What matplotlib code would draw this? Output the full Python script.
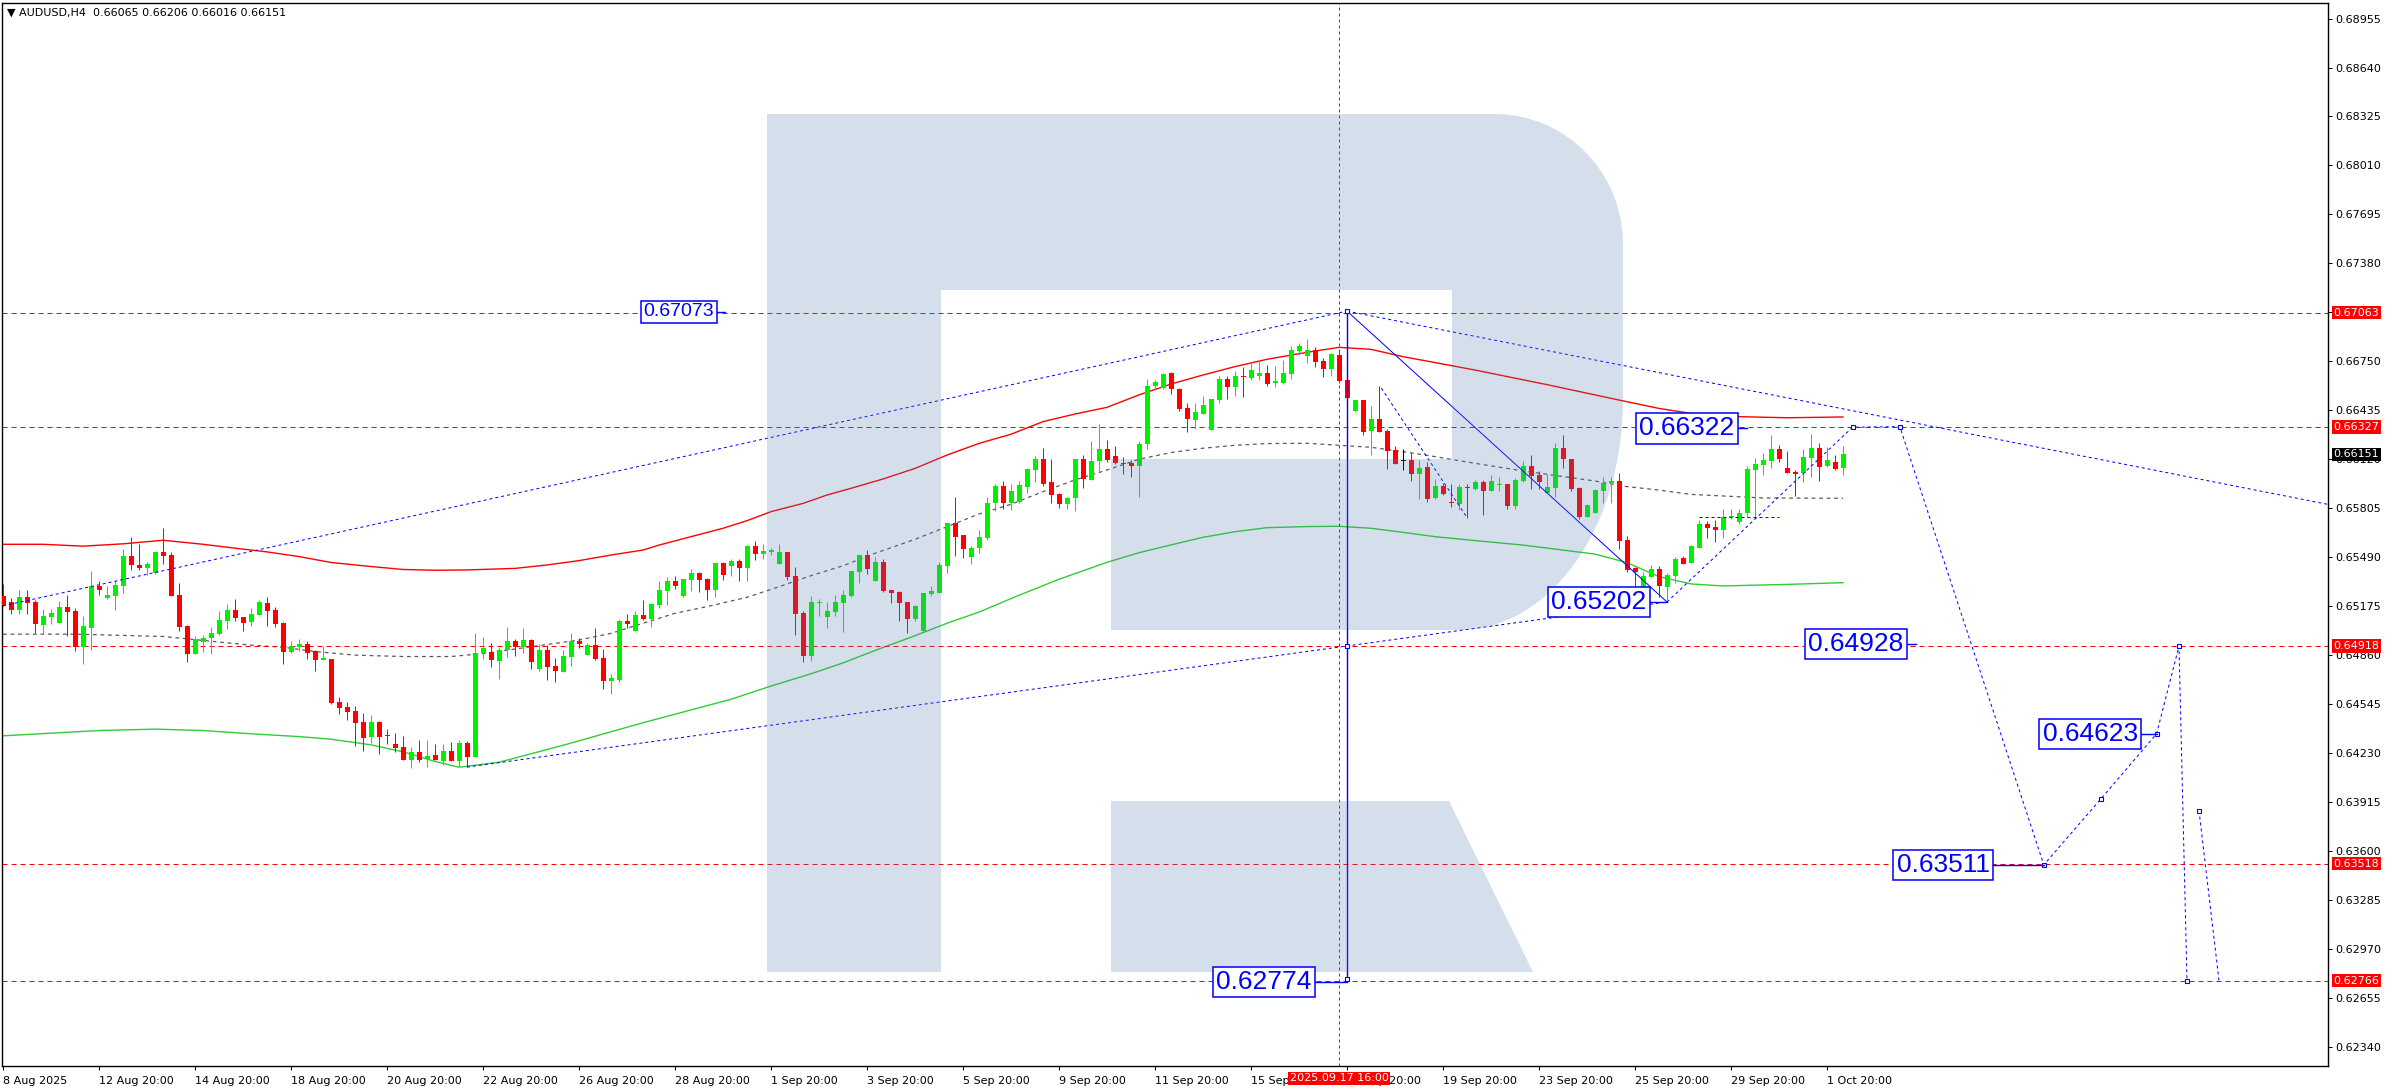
import numpy as np
import matplotlib.pyplot as plt
from matplotlib.patches import Polygon
from matplotlib.transforms import blended_transform_factory

# AUDUSD H4 candles, bar 0 = 8 Aug 2025 20:00
opens = [0.65241, 0.65203, 0.65151, 0.65235, 0.65203, 0.65055, 0.65106, 0.65068, 0.65170, 0.65145,
         0.64913, 0.65035, 0.65306, 0.65228, 0.65241, 0.65306, 0.65498, 0.65441, 0.65421, 0.65389,
         0.65524, 0.65505, 0.65248, 0.65048, 0.64868, 0.64945, 0.64971, 0.64997, 0.65080, 0.65151,
         0.65106, 0.65074, 0.65119, 0.65196, 0.65151, 0.65068, 0.64881, 0.64913, 0.64930, 0.64887,
         0.64830, 0.64836, 0.64559, 0.64527, 0.64502, 0.64431, 0.64334, 0.64431, 0.64343, 0.64289,
         0.64270, 0.64186, 0.64238, 0.64193, 0.64218, 0.64180, 0.64244, 0.64180, 0.64296, 0.64206,
         0.64872, 0.64878, 0.64824, 0.64893, 0.64951, 0.64910, 0.64957, 0.64769, 0.64893, 0.64790,
         0.64754, 0.64850, 0.64949, 0.64863, 0.64923, 0.64842, 0.64696, 0.64700, 0.65080, 0.65017,
         0.65118, 0.65092, 0.65185, 0.65275, 0.65337, 0.65240, 0.65343, 0.65388, 0.65350, 0.65279,
         0.65453, 0.65433, 0.65463, 0.65423, 0.65564, 0.65513, 0.65523, 0.65448, 0.65523, 0.65369,
         0.65129, 0.64857, 0.65197, 0.65105, 0.65140, 0.65197, 0.65243, 0.65395, 0.65506, 0.65339,
         0.65459, 0.65279, 0.65266, 0.65202, 0.65095, 0.65017, 0.65255, 0.65262, 0.65435, 0.65710,
         0.65633, 0.65493, 0.65551, 0.65612, 0.65839, 0.65948, 0.65841, 0.65848, 0.65944, 0.66053,
         0.66122, 0.65974, 0.65899, 0.65835, 0.65873, 0.66122, 0.65989, 0.66109, 0.66186, 0.66141,
         0.66096, 0.66094, 0.66079, 0.66218, 0.66589, 0.66577, 0.66675, 0.66572, 0.66448, 0.66375,
         0.66414, 0.66309, 0.66501, 0.66637, 0.66585, 0.66652, 0.66645, 0.66656, 0.66675, 0.66609,
         0.66611, 0.66669, 0.66817, 0.66787, 0.66823, 0.66752, 0.66703, 0.66791, 0.66630, 0.66431,
         0.66501, 0.66300, 0.66379, 0.66302, 0.66180, 0.66111, 0.66116, 0.66026, 0.66071, 0.65871,
         0.65948, 0.65848, 0.65833, 0.65944, 0.65929, 0.65976, 0.65918, 0.65952, 0.65961, 0.65819,
         0.65982, 0.66077, 0.66019, 0.65903, 0.65935, 0.66192, 0.66119, 0.65933, 0.65751, 0.65776,
         0.65918, 0.65965, 0.65980, 0.65601, 0.65423, 0.65258, 0.65365, 0.65412, 0.65300, 0.65372,
         0.65483, 0.65453, 0.65551, 0.65703, 0.65686, 0.65667, 0.65746, 0.65718, 0.65772, 0.66051,
         0.66085, 0.66109, 0.66186, 0.66062, 0.66038, 0.66029, 0.66130, 0.66192, 0.66077, 0.66102,
         0.66065]
highs = [0.65318, 0.65226, 0.65280, 0.65280, 0.65215, 0.65158, 0.65158, 0.65209, 0.65248, 0.65162,
         0.65113, 0.65402, 0.65338, 0.65306, 0.65338, 0.65544, 0.65621, 0.65576, 0.65460, 0.65526,
         0.65679, 0.65524, 0.65325, 0.65055, 0.64984, 0.64990, 0.65042, 0.65145, 0.65190, 0.65222,
         0.65108, 0.65164, 0.65215, 0.65235, 0.65170, 0.65074, 0.64952, 0.64965, 0.64952, 0.64890,
         0.64920, 0.64838, 0.64592, 0.64559, 0.64534, 0.64489, 0.64476, 0.64437, 0.64386, 0.64360,
         0.64341, 0.64270, 0.64315, 0.64315, 0.64289, 0.64289, 0.64302, 0.64315, 0.64308, 0.65003,
         0.64975, 0.64936, 0.64914, 0.65041, 0.64962, 0.65032, 0.64962, 0.64930, 0.64923, 0.64844,
         0.64893, 0.65000, 0.64968, 0.64936, 0.65032, 0.64902, 0.64737, 0.65090, 0.65122, 0.65144,
         0.65215, 0.65197, 0.65335, 0.65360, 0.65369, 0.65352, 0.65414, 0.65395, 0.65354, 0.65455,
         0.65459, 0.65478, 0.65478, 0.65568, 0.65594, 0.65575, 0.65551, 0.65575, 0.65525, 0.65425,
         0.65146, 0.65240, 0.65219, 0.65202, 0.65247, 0.65279, 0.65401, 0.65506, 0.65536, 0.65491,
         0.65478, 0.65281, 0.65272, 0.65204, 0.65183, 0.65262, 0.65305, 0.65461, 0.65718, 0.65879,
         0.65635, 0.65564, 0.65665, 0.65878, 0.65961, 0.65980, 0.65961, 0.65980, 0.66060, 0.66141,
         0.66195, 0.66122, 0.65905, 0.65880, 0.66124, 0.66148, 0.66238, 0.66347, 0.66244, 0.66203,
         0.66135, 0.66116, 0.66238, 0.66637, 0.66630, 0.66675, 0.66684, 0.66579, 0.66482, 0.66482,
         0.66527, 0.66510, 0.66656, 0.66656, 0.66690, 0.66716, 0.66737, 0.66759, 0.66727, 0.66720,
         0.66759, 0.66849, 0.66868, 0.66894, 0.66842, 0.66772, 0.66804, 0.66823, 0.66632, 0.66503,
         0.66503, 0.66463, 0.66592, 0.66315, 0.66206, 0.66186, 0.66158, 0.66116, 0.66103, 0.65993,
         0.65968, 0.65961, 0.65961, 0.65961, 0.65986, 0.65986, 0.66019, 0.66008, 0.65963, 0.65997,
         0.66109, 0.66147, 0.66047, 0.66025, 0.66227, 0.66276, 0.66121, 0.65939, 0.65832, 0.65926,
         0.66006, 0.66006, 0.66034, 0.65626, 0.65425, 0.65393, 0.65440, 0.65436, 0.65386, 0.65489,
         0.65496, 0.65571, 0.65729, 0.65725, 0.65729, 0.65802, 0.65802, 0.65802, 0.66079, 0.66130,
         0.66158, 0.66276, 0.66212, 0.66173, 0.66051, 0.66188, 0.66282, 0.66222, 0.66201, 0.66147,
         0.66206]
lows = [0.65177, 0.65125, 0.65125, 0.65125, 0.65001, 0.65001, 0.65061, 0.65066, 0.64984, 0.64887,
        0.64804, 0.64894, 0.65248, 0.65222, 0.65151, 0.65261, 0.65408, 0.65408, 0.65376, 0.65383,
        0.65447, 0.65238, 0.65016, 0.64817, 0.64865, 0.64881, 0.64868, 0.64990, 0.65029, 0.65080,
        0.65016, 0.65048, 0.65117, 0.65048, 0.65042, 0.64804, 0.64875, 0.64887, 0.64836, 0.64759,
        0.64828, 0.64547, 0.64482, 0.64444, 0.64276, 0.64244, 0.64296, 0.64225, 0.64289, 0.64238,
        0.64184, 0.64135, 0.64173, 0.64141, 0.64184, 0.64154, 0.64178, 0.64141, 0.64141, 0.64204,
        0.64837, 0.64786, 0.64709, 0.64850, 0.64857, 0.64876, 0.64769, 0.64760, 0.64700, 0.64689,
        0.64752, 0.64792, 0.64904, 0.64861, 0.64827, 0.64640, 0.64612, 0.64687, 0.65035, 0.65015,
        0.65086, 0.65043, 0.65165, 0.65185, 0.65288, 0.65236, 0.65273, 0.65266, 0.65215, 0.65236,
        0.65343, 0.65369, 0.65337, 0.65337, 0.65472, 0.65478, 0.65504, 0.65446, 0.65343, 0.64992,
        0.64818, 0.64824, 0.65114, 0.65037, 0.65114, 0.65011, 0.65236, 0.65326, 0.65384, 0.65337,
        0.65266, 0.65195, 0.65082, 0.65005, 0.65082, 0.65015, 0.65243, 0.65260, 0.65390, 0.65498,
        0.65483, 0.65448, 0.65515, 0.65601, 0.65790, 0.65800, 0.65796, 0.65841, 0.65905, 0.65976,
        0.65950, 0.65839, 0.65807, 0.65800, 0.65790, 0.65938, 0.65987, 0.66047, 0.66105, 0.66092,
        0.66026, 0.66004, 0.65880, 0.66188, 0.66566, 0.66572, 0.66542, 0.66433, 0.66298, 0.66315,
        0.66412, 0.66307, 0.66484, 0.66510, 0.66527, 0.66521, 0.66630, 0.66630, 0.66594, 0.66585,
        0.66602, 0.66634, 0.66791, 0.66737, 0.66716, 0.66649, 0.66656, 0.66609, 0.66512, 0.66426,
        0.66276, 0.66148, 0.66294, 0.66058, 0.66090, 0.66051, 0.65980, 0.65865, 0.65845, 0.65865,
        0.65890, 0.65811, 0.65794, 0.65743, 0.65922, 0.65761, 0.65916, 0.65918, 0.65800, 0.65800,
        0.65976, 0.65929, 0.65929, 0.65901, 0.65879, 0.66062, 0.65918, 0.65738, 0.65749, 0.65774,
        0.65836, 0.65836, 0.65545, 0.65397, 0.65236, 0.65256, 0.65363, 0.65236, 0.65215, 0.65326,
        0.65446, 0.65451, 0.65549, 0.65613, 0.65590, 0.65616, 0.65738, 0.65706, 0.65751, 0.65751,
        0.66021, 0.66066, 0.66104, 0.66029, 0.65886, 0.65976, 0.66004, 0.65982, 0.66072, 0.66051,
        0.66016]
closes = [0.65183, 0.65151, 0.65235, 0.65198, 0.65059, 0.65113, 0.65132, 0.65170, 0.65138, 0.64913,
          0.65048, 0.65306, 0.65280, 0.65248, 0.65312, 0.65498, 0.65441, 0.65421, 0.65447, 0.65524,
          0.65498, 0.65241, 0.65042, 0.64868, 0.64965, 0.64971, 0.65003, 0.65087, 0.65151, 0.65100,
          0.65068, 0.65125, 0.65203, 0.65145, 0.65061, 0.64881, 0.64920, 0.64932, 0.64875, 0.64830,
          0.64842, 0.64553, 0.64521, 0.64495, 0.64424, 0.64328, 0.64431, 0.64334, 0.64339, 0.64264,
          0.64186, 0.64238, 0.64186, 0.64212, 0.64186, 0.64244, 0.64180, 0.64296, 0.64206, 0.64875,
          0.64906, 0.64827, 0.64893, 0.64951, 0.64910, 0.64957, 0.64814, 0.64893, 0.64786, 0.64756,
          0.64854, 0.64949, 0.64934, 0.64923, 0.64837, 0.64696, 0.64713, 0.65080, 0.65062, 0.65118,
          0.65092, 0.65189, 0.65279, 0.65337, 0.65307, 0.65350, 0.65388, 0.65343, 0.65279, 0.65453,
          0.65378, 0.65463, 0.65423, 0.65564, 0.65513, 0.65528, 0.65534, 0.65521, 0.65365, 0.65127,
          0.64857, 0.65202, 0.65204, 0.65144, 0.65202, 0.65247, 0.65399, 0.65504, 0.65416, 0.65459,
          0.65272, 0.65262, 0.65197, 0.65095, 0.65176, 0.65260, 0.65272, 0.65440, 0.65710, 0.65622,
          0.65541, 0.65551, 0.65619, 0.65839, 0.65948, 0.65839, 0.65914, 0.65955, 0.66058, 0.66122,
          0.65961, 0.65893, 0.65835, 0.65873, 0.66122, 0.65996, 0.66109, 0.66186, 0.66118, 0.66096,
          0.66092, 0.66079, 0.66218, 0.66592, 0.66617, 0.66669, 0.66572, 0.66444, 0.66379, 0.66424,
          0.66469, 0.66508, 0.66637, 0.66585, 0.66656, 0.66647, 0.66694, 0.66675, 0.66604, 0.66624,
          0.66675, 0.66823, 0.66849, 0.66823, 0.66746, 0.66701, 0.66797, 0.66624, 0.66514, 0.66501,
          0.66296, 0.66379, 0.66296, 0.66176, 0.66092, 0.66111, 0.66026, 0.66064, 0.65865, 0.65948,
          0.65897, 0.65841, 0.65942, 0.65937, 0.65976, 0.65918, 0.65982, 0.65956, 0.65819, 0.65986,
          0.66077, 0.66014, 0.65976, 0.65939, 0.66192, 0.66119, 0.65931, 0.65751, 0.65826, 0.65922,
          0.65967, 0.65980, 0.65596, 0.65410, 0.65393, 0.65367, 0.65412, 0.65307, 0.65373, 0.65476,
          0.65448, 0.65564, 0.65703, 0.65680, 0.65667, 0.65746, 0.65753, 0.65776, 0.66057, 0.66089,
          0.66115, 0.66186, 0.66122, 0.66032, 0.66027, 0.66134, 0.66192, 0.66072, 0.66115, 0.66057,
          0.66151]

# indicator lines (bar index, price)
red_x = [0, 5, 10, 15, 20, 25, 29, 33, 37, 41, 46, 50, 54, 58, 64, 68, 72, 76, 80, 82, 86, 90, 93, 96,
         100, 103, 106, 110, 114, 118, 122, 126, 130, 134, 138, 142, 146, 150, 154, 158, 163, 167, 171,
         175, 179, 184, 193, 202, 207, 211, 217, 223, 230]
red_y = [0.65573, 0.65573, 0.65561, 0.65576, 0.65599, 0.65573, 0.65548, 0.65524, 0.65494, 0.65456,
         0.65430, 0.65411, 0.65406, 0.65408, 0.65418, 0.65440, 0.65468, 0.65504, 0.65536, 0.65568,
         0.65622, 0.65676, 0.65725, 0.65783, 0.65836, 0.65890, 0.65933, 0.65993, 0.66061, 0.66147,
         0.66222, 0.66281, 0.66362, 0.66411, 0.66454, 0.66534, 0.66604, 0.66662, 0.66716, 0.66763,
         0.66808, 0.66840, 0.66827, 0.66780, 0.66742, 0.66694, 0.66600, 0.66501, 0.66447, 0.66415,
         0.66394, 0.66387, 0.66392]
green_x = [0, 6, 12, 19, 25, 31, 37, 41, 46, 50, 54, 57, 60, 62, 70, 80, 91, 96, 101, 105, 109, 114,
           118, 122, 127, 132, 138, 142, 146, 150, 154, 158, 163, 167, 171, 175, 179, 184, 190, 199,
           203, 207, 211, 215, 223, 230]
green_y = [0.64341, 0.64358, 0.64375, 0.64384, 0.64375, 0.64354, 0.64336, 0.64319, 0.64283, 0.64238,
           0.64176, 0.64139, 0.64158, 0.64171, 0.64280, 0.64425, 0.64576, 0.64661, 0.64740, 0.64810,
           0.64890, 0.64985, 0.65065, 0.65137, 0.65245, 0.65348, 0.65457, 0.65519, 0.65569, 0.65618,
           0.65654, 0.65680, 0.65687, 0.65689, 0.65676, 0.65650, 0.65622, 0.65597, 0.65568, 0.65510,
           0.65455, 0.65365, 0.65318, 0.65305, 0.65315, 0.65326]
gray_x = [0, 9, 20, 23, 31, 35, 39, 44, 50, 56, 60, 66, 72, 76, 80, 84, 88, 93, 97, 101, 105, 109, 114,
          118, 122, 126, 130, 134, 138, 142, 146, 150, 154, 158, 163, 167, 171, 175, 179, 184, 190, 199,
          203, 207, 211, 220, 230]
gray_y = [0.64995, 0.64995, 0.64980, 0.64965, 0.64924, 0.64911, 0.64883, 0.64860, 0.64851, 0.64851,
          0.64870, 0.64914, 0.64957, 0.65000, 0.65065, 0.65129, 0.65172, 0.65232, 0.65300, 0.65371,
          0.65435, 0.65515, 0.65605, 0.65686, 0.65768, 0.65830, 0.65912, 0.65987, 0.66051, 0.66120,
          0.66163, 0.66191, 0.66210, 0.66221, 0.66223, 0.66210, 0.66197, 0.66169, 0.66137, 0.66094,
          0.66045, 0.65980, 0.65944, 0.65922, 0.65894, 0.65871, 0.65869]

# horizontal levels
levels = [0.67063, 0.66327, 0.64918, 0.63518, 0.62766]

# analyst drawing
peak_bar, peak_price, vert_low = 168, 0.67073, 0.62774
upper_trend_x, upper_trend_y = [0, 168], [0.65177, 0.67073]
fall_trend_x, fall_trend_y = [168, 290.6], [0.67073, 0.65830]
lower_trend_x, lower_trend_y = [58, 208], [0.64140, 0.65202]
drop_x, drop_y = [168, 208], [0.67073, 0.65202]
short_x, short_y = [172.3, 183], [0.66577, 0.65745]
flat_x, flat_y = [212, 222], [0.65751, 0.65751]
wave_x = [208, 231.2, 237.1, 255.1, 262.2, 269.2, 272.0, 273.0]
wave_y = [0.65202, 0.66326, 0.66330, 0.63511, 0.63933, 0.64354, 0.64918, 0.62766]
wave2_x, wave2_y = [274.5, 277.0], [0.63860, 0.62766]

label_text = ['0.67073', '0.66322', '0.65202', '0.64928', '0.64623', '0.63511', '0.62774']
label_x = [84.5, 210.5, 199.5, 231.6, 260.9, 242.5, 157.6]
label_y = [0.67068, 0.66318, 0.65202, 0.64932, 0.64354, 0.63510, 0.62758]
label_end = [90.2, 218.0, 208.0, 239.1, 269.2, 255.1, 168.0]
label_size = [14, 19, 19, 19, 19, 19, 19]

date_labels = ['8 Aug 2025', '12 Aug 20:00', '14 Aug 20:00', '18 Aug 20:00', '20 Aug 20:00',
               '22 Aug 20:00', '26 Aug 20:00', '28 Aug 20:00', '1 Sep 20:00', '3 Sep 20:00',
               '5 Sep 20:00', '9 Sep 20:00', '11 Sep 20:00', '15 Sep 20:00', '17 Sep 20:00',
               '19 Sep 20:00', '23 Sep 20:00', '25 Sep 20:00', '29 Sep 20:00', '1 Oct 20:00']
price_ticks = [0.62340, 0.62655, 0.62970, 0.63285, 0.63600, 0.63915, 0.64230, 0.64545, 0.64860,
               0.65175, 0.65490, 0.65805, 0.66120, 0.66435, 0.66750, 0.67065, 0.67380, 0.67695,
               0.68010, 0.68325, 0.68640, 0.68955]
tag_prices = [0.67063, 0.66327, 0.64918, 0.63518, 0.62766]
last_price = 0.66151
cursor_bar, cursor_text = 167, '2025.09.17 16:00'

W, H = 2392, 1090
fig = plt.figure(figsize=(W / 100, H / 100), dpi=100)
ax = fig.add_axes([2 / W, 24 / H, 2326 / W, 1063 / H])
ax.set_xlim(-0.125, 290.625)
ax.set_ylim(0.62217, 0.69055)
px = 0.72  # one pixel in points

o, h, l, c = map(np.array, (opens, highs, lows, closes))
x = np.arange(len(o))
col = np.where(c > o, '#00f000', np.where(c < o, '#ff0000', '#000000'))
ax.vlines(x, l, h, colors=col, lw=px, zorder=3)
body = np.maximum(np.abs(c - o), 0.00007)
ax.bar(x, body, bottom=np.minimum(o, c) - np.where(c == o, 0.000035, 0), width=0.625,
       color=col, lw=0, zorder=3)

ax.plot(red_x, red_y, color='#ff0000', lw=1.0, zorder=2)
ax.plot(green_x, green_y, color='#32cd32', lw=1.0, zorder=2)
ax.plot(gray_x, gray_y, color='#5a5a5a', lw=0.9, ls=(0, (3, 3)), zorder=2)

for lv in levels:
    ax.axhline(lv, color='#ff0000', lw=px, ls=(0, (5, 4)), zorder=2)
ax.axvline(cursor_bar, color='#ff0000', lw=px, ls=(0, (3, 3)), zorder=2)

blue = '#0000ff'
dot = dict(color=blue, lw=px, ls=(0, (3, 3)), zorder=4)
ax.plot(upper_trend_x, upper_trend_y, **dot)
ax.plot(fall_trend_x, fall_trend_y, **dot)
ax.plot(lower_trend_x, lower_trend_y, **dot)
ax.plot(short_x, short_y, **dot)
ax.plot(flat_x, flat_y, **dot)
ax.plot(wave_x, wave_y, **dot)
ax.plot(wave2_x, wave2_y, **dot)
ax.plot(drop_x, drop_y, color=blue, lw=px, zorder=4)
ax.plot([peak_bar, peak_bar], [peak_price, vert_low], color=blue, lw=1.0, zorder=4)
ax.plot([peak_bar] * 3 + wave_x[1:] + wave2_x[:1], [peak_price, levels[2], vert_low] + wave_y[1:] + wave2_y[:1],
        ls='none', marker='s', ms=3, mfc='white', mec=blue, mew=0.8, zorder=6)

# watermark logo (light blue "R"), in pixel space of the plot
def pxy(pts):
    pts = np.asarray(pts, float)
    return np.column_stack([(pts[:, 0] - 2) / 2326, (1066 - pts[:, 1]) / 1063])

t1 = np.linspace(np.pi / 2, 0, 20)
t2 = np.linspace(0, -np.pi / 2, 30)
outer = ([(767, 114), (1495, 114)]
         + [(1495 + 128 * np.cos(t), 244 - 130 * np.sin(t)) for t in t1]
         + [(1623, 400)]
         + [(1460 + 163 * np.cos(t), 400 - 230 * np.sin(t)) for t in t2]
         + [(1111, 630), (1111, 459), (1452, 459), (1452, 290), (941, 290), (941, 972), (767, 972)])
leg = [(1111, 801), (1449, 801), (1533, 972), (1111, 972)]
for shape in (outer, leg):
    ax.add_patch(Polygon(pxy(shape), closed=True, transform=ax.transAxes, fc='#517dae',
                         alpha=0.24, lw=0, zorder=5))

for s, lx, ly, le, fs in zip(label_text, label_x, label_y, label_end, label_size):
    ax.plot([lx, le], [ly, ly], color=blue, lw=1.0, zorder=7)
    ax.text(lx, ly, s, fontsize=fs, family='Liberation Sans', color=blue, ha='center',
            va='center', zorder=8,
            bbox=dict(boxstyle='square,pad=0.12', fc='white', ec=blue, lw=1.1))

ax.text(0.002, 0.996, '\u25bc AUDUSD,H4  0.66065 0.66206 0.66016 0.66151', transform=ax.transAxes,
        fontsize=8, va='top', ha='left', zorder=9)

# axes
ax.yaxis.tick_right()
ax.set_yticks(price_ticks)
ax.set_yticklabels(['%.5f' % v for v in price_ticks])
ax.set_xticks(np.arange(len(date_labels)) * 12)
ax.set_xticklabels(date_labels)
for lab in ax.get_xticklabels():
    lab.set_ha('left')
ax.tick_params(axis='both', direction='out', length=3, width=px, labelsize=8, pad=2)
ax.tick_params(axis='x', pad=4)
for sp in ax.spines.values():
    sp.set_linewidth(1.0)

for tp in tag_prices:
    ax.annotate('%.5f' % tp, xy=(1.0, tp), xycoords=('axes fraction', 'data'),
                xytext=(4, 0), textcoords='offset points', fontsize=8, color='white',
                va='center', ha='left', zorder=10,
                bbox=dict(boxstyle='square,pad=0.15', fc='#ff0000', ec='none'))
ax.annotate('%.5f' % last_price, xy=(1.0, last_price), xycoords=('axes fraction', 'data'),
            xytext=(4, 0), textcoords='offset points', fontsize=8, color='white',
            va='center', ha='left', zorder=10,
            bbox=dict(boxstyle='square,pad=0.15', fc='#000000', ec='none'))

tr = blended_transform_factory(ax.transData, ax.transAxes)
ax.text(cursor_bar, -0.0115, cursor_text, transform=tr, fontsize=8, color='white', ha='center',
        va='center', zorder=10, bbox=dict(boxstyle='square,pad=0.15', fc='#ff0000', ec='none'))

fig.savefig('out.png', dpi=100, facecolor='white')
